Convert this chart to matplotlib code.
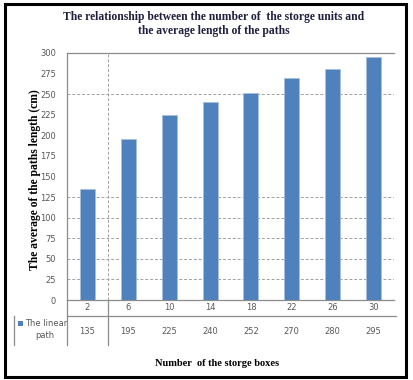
import matplotlib.pyplot as plt
import numpy as np

boxes = ["2", "6", "10", "14", "18", "22", "26", "30"]
linear_path = [135, 195, 225, 240, 252, 270, 280, 295]
grid_levels = [25, 50, 75, 100, 125, 250]

bar_color = "#4F81BD"
grid_color = "#A0A0A0"
tick_color = "#595959"
serif = "Liberation Serif"

fig = plt.figure(figsize=(4.13, 3.80), dpi=100)
ax = fig.add_axes([67 / 413, 80 / 380, 327 / 413, 247 / 380])

x = np.arange(len(boxes))
ax.bar(x, linear_path, width=0.37, color=bar_color, edgecolor="#A7C0E0",
       linewidth=0.6, zorder=3)

ax.set_xlim(-0.5, len(boxes) - 0.5)
ax.set_ylim(0, 300)
ax.set_yticks(np.arange(0, 301, 25))
ax.tick_params(axis="y", length=0, labelsize=6, labelcolor=tick_color, pad=8)
ax.set_xticks([])

for g in grid_levels:
    ax.axhline(g, color=grid_color, lw=0.7, ls=(0, (3, 2)), zorder=1)
ax.axvline(0.5, color=grid_color, lw=0.7, ls=(0, (3, 2)), zorder=1)

for side in ["left", "top", "bottom"]:
    ax.spines[side].set_color("#8C8C8C")
    ax.spines[side].set_linewidth(0.9)
ax.spines["right"].set_visible(False)

# data table under the axis
tr = ax.get_xaxis_transform()
to_y = lambda py: 1 - (py - 53) / 247
line_kw = dict(color="#8C8C8C", lw=0.9, clip_on=False)
ax.plot([-0.5, 7.55], [to_y(316), to_y(316)], transform=tr, **line_kw)
ax.plot([0.5, 0.5], [0, to_y(345)], transform=tr, **line_kw)
ax.plot([-0.5, -0.5], [0, to_y(345)], transform=tr, **line_kw)
x_head = -0.5 - (67 - 14) / 40.9
ax.plot([x_head, x_head], [to_y(316), to_y(345)], transform=tr, **line_kw)

for i, (b, v) in enumerate(zip(boxes, linear_path)):
    ax.text(i, to_y(308), b, transform=tr, ha="center", va="center",
            fontsize=6, color=tick_color)
    ax.text(i, to_y(331), str(v), transform=tr, ha="center", va="center",
            fontsize=6, color=tick_color)

fig.patches.append(plt.Rectangle((18 / 413, 1 - 326 / 380), 5 / 413, 5 / 380,
                                 transform=fig.transFigure,
                                 facecolor=bar_color, edgecolor="none"))
fig.text(25 / 413, 1 - 323 / 380, "The linear", fontsize=6, color=tick_color,
         ha="left", va="center")
fig.text(45 / 413, 1 - 336 / 380, "path", fontsize=6, color=tick_color,
         ha="center", va="center")

fig.text(214 / 413, 1 - 24 / 380,
         "The relationship between the number of  the storge units and\nthe average length of the paths",
         ha="center", va="center", fontsize=8.4, fontweight="bold",
         family=serif, color="#1F1F3F", linespacing=1.25)
fig.text(35 / 413, 1 - 180 / 380, "The average of the paths length (cm)",
         rotation=90, ha="center", va="center", fontsize=8.4,
         fontweight="bold", family=serif)
fig.text(217 / 413, 1 - 364 / 380, "Number  of the storge boxes",
         ha="center", va="center", fontsize=7.5, fontweight="bold",
         family=serif)

# outer frame
fig.patches.append(plt.Rectangle((5 / 413, 3 / 380), 401 / 413, 373 / 380,
                                 transform=fig.transFigure, fill=False,
                                 edgecolor="black", lw=2.2))

fig.savefig("out.png", dpi=100)
